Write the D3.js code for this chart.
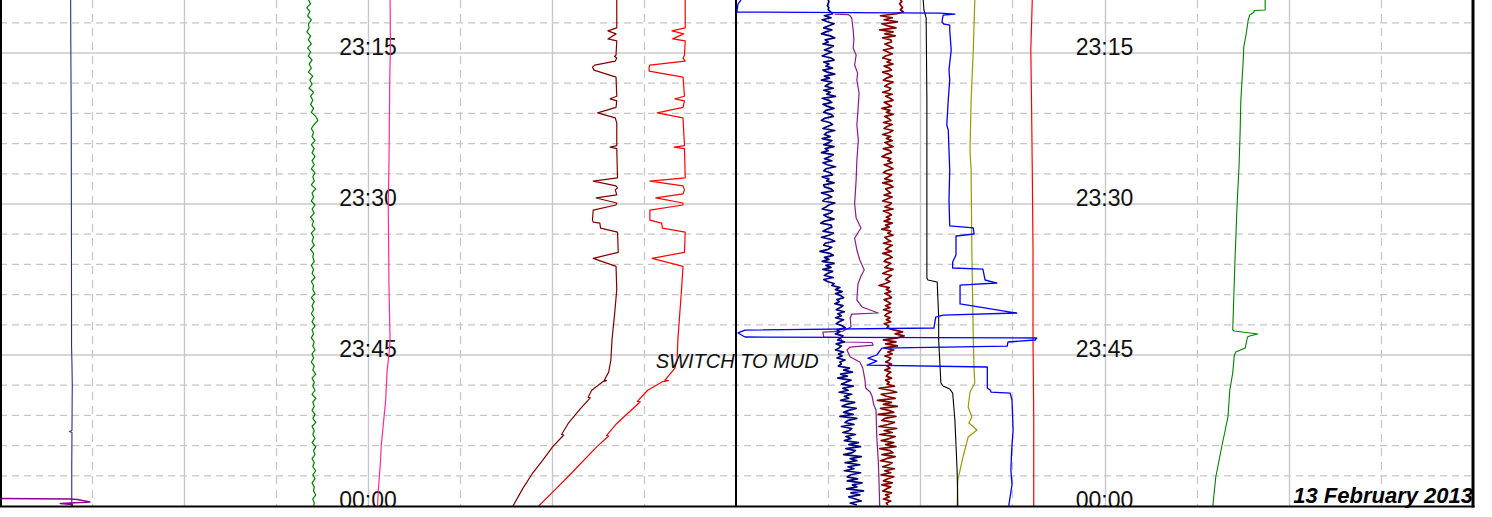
<!DOCTYPE html>
<html><head><meta charset="utf-8">
<script src="https://cdn.jsdelivr.net/npm/d3@7"></script>
<style>html,body{margin:0;padding:0;background:#fff;} svg{display:block;}</style>
</head><body>
<svg id="c" width="1492" height="517"></svg>
<script>
// ---------- DATA (time = minutes after 23:00, value = % of track width) ----------
const timeLabels = ["23:15", "23:30", "23:45", "00:00"];
const timeTicks = [15, 30, 45, 60];
const timeDomain = [9.735, 60];
const minorStep = 3;
const annotationText = "SWITCH TO MUD";
const annotationAt = [46.3, 89.1];
const dateText = "13 February 2013";

// Track A (left)
const blueA = [[9.7,9.6],[14,9.62],[18,9.65],[22,9.68],[30,9.7],[40,9.72],[44,9.72],[46,9.78],[48,9.82],[50,9.8],[52.5,9.78],[52.6,9.45],[52.7,9.78],[56,9.75],[60,9.75]];
const purpleA = [[59.25,0],[59.3,9.5],[59.35,10.5],[59.6,12.2],[59.75,8.2],[59.85,9.8],[60,9.8]];
const pinkA = [[9.7,53.0],[14,53.05],[18,52.95],[22,52.9],[26,52.85],[30,52.75],[34,52.8],[38,52.85],[42,52.95],[43.5,53.0],[45,52.85],[46.5,52.6],[48,52.5],[49.5,52.4],[51,52.2],[52.5,52.0],[54,51.8],[55.5,51.7],[57,51.55],[58.5,51.4],[60,51.3]];
const greenAStart = 9.7, greenAStep = 0.4;
const greenAVals = [41.9,42.2,41.7,42.1,41.8,42.3,41.9,42.0,41.7,42.2,41.9,42.3,41.8,
42.2,41.9,42.4,42.0,42.3,41.9,42.5,42.1,42.4,42.0,42.6,42.2,42.5,
42.2,42.6,42.3,42.9,43.2,42.7,42.3,42.6,42.4,42.8,42.3,42.7,42.4,
42.8,42.4,42.7,42.3,42.8,42.5,42.7,42.3,42.9,42.4,42.6,42.3,42.8,
42.4,42.7,42.2,42.6,42.4,42.8,42.3,42.6,42.4,42.7,42.2,42.6,42.5,
42.7,42.3,42.6,42.4,42.8,42.3,42.6,42.5,42.8,42.3,42.7,42.4,42.6,
42.3,42.7,42.4,42.8,42.4,42.6,42.3,42.7,42.5,42.8,42.4,42.6,42.3,
42.7,42.5,42.9,42.4,42.7,42.5,42.8,42.4,42.9,42.5,42.7,42.4,42.8,
42.5,42.9,42.4,42.7,42.5,42.8,42.4,42.9,42.6,42.8,42.4,42.7,42.5,
42.9,42.5,42.8,42.4,42.7,42.6,42.9,42.5,42.7,42.6];
const maroonA = [[9.7,83.8],[12.5,83.8],[12.8,82.6],[13.1,83.7],[13.6,82.6],[13.8,83.8],[15.2,83.7],[15.35,83.5],[15.5,83.8],[15.8,83.6],[16.2,80.8],[16.4,80.5],[16.7,80.7],[17.4,83.7],[19.3,83.8],[19.55,82.9],[19.75,83.8],[20.4,83.7],[20.95,81.2],[21.45,83.6],[22,83.8],[24.2,83.8],[24.35,82.9],[24.5,83.8],[27.4,83.9],[27.72,80.6],[28.2,83.7],[28.4,83.9],[28.6,83.6],[29.1,83.8],[29.4,81.0],[29.9,83.8],[30.1,83.7],[30.6,80.6],[31.6,80.5],[31.8,80.6],[31.9,81.5],[32.4,81.6],[32.8,83.9],[34.8,84.0],[35.4,80.6],[36.2,83.7],[38.5,83.8],[41,83.5],[43.5,83.15],[45.5,83.0],[46.7,82.7],[47.5,82.1],[47.55,82.4],[47.65,81.9],[48.5,80.4],[49.2,79.9],[49.25,80.2],[50.3,78.9],[51.8,77.2],[52.9,76.3],[52.95,76.6],[54.1,75.1],[55.4,73.8],[56.7,72.4],[58.3,71.0],[60,69.7]];
const redA = [[9.7,93.1],[12.5,93.1],[12.8,91.3],[13.1,92.9],[13.6,91.4],[13.8,93.1],[15.2,93.0],[15.5,92.8],[15.8,93.1],[16.2,88.3],[16.4,88.2],[16.8,88.2],[17.4,92.8],[19.3,93.0],[19.55,91.7],[19.75,93.0],[20.4,92.8],[20.95,89.3],[21.45,92.8],[24.2,93.0],[24.35,91.6],[24.5,93.0],[27.4,93.1],[27.72,88.3],[28.2,92.8],[28.6,93.0],[29.0,92.8],[29.4,89.1],[29.9,92.8],[30.1,92.8],[30.6,88.3],[31.6,88.3],[31.9,89.9],[32.4,90.0],[32.8,93.1],[34.8,93.0],[35.4,88.6],[36.2,92.8],[38.5,92.6],[43.5,92.1],[45.5,92.0],[46.3,91.7],[47.5,90.35],[47.55,90.8],[47.65,90.0],[48.5,88.0],[49.6,86.6],[49.65,87.0],[51.8,83.8],[53.0,82.4],[53.05,82.7],[54.1,81.1],[56.7,77.7],[58.4,75.4],[60,73.2]];

// Track B (right)
const navyStart = 9.7, navyStep = 0.2;
const navyVals = [12.5,12.6,12.5,12.4,12.6,12.5,12.8,
13.1,12.0,12.9,11.7,12.4,13.3,12.6,11.9,13.0,12.2,
11.6,12.8,13.4,12.1,12.5,11.8,13.2,12.7,12.0,13.0,
12.3,11.7,12.9,13.3,11.9,12.6,12.2,13.1,11.8,12.4,
13.4,12.0,12.7,11.6,13.0,12.5,12.1,13.2,11.9,12.8,
12.3,13.5,11.7,12.6,13.0,11.8,12.4,13.3,12.2,11.9,
12.9,13.2,12.0,11.6,12.7,13.1,12.4,11.8,13.4,12.3,
12.0,12.8,11.7,13.0,12.6,11.9,13.3,12.1,12.5,11.6,
13.2,12.7,12.0,13.0,11.8,12.4,13.5,12.2,11.9,12.8,
13.1,11.7,12.6,12.3,13.3,11.9,12.0,12.9,13.2,11.6,
12.5,13.0,12.1,11.8,13.4,12.6,12.2,11.7,13.1,12.8,
11.9,12.4,13.3,12.0,11.5,12.9,13.0,12.3,11.8,13.2,
12.6,11.6,12.8,13.4,12.1,11.9,13.0,12.5,11.4,12.7,
13.2,12.0,12.6,11.7,13.3,12.2,12.9,11.8,13.1,12.4,
12.0,13.2,11.9,
12.4,13.3,13.0,14.1,13.5,
14.4,13.5,14.2,14.6,13.7,14.0,13.4,14.5,14.1,13.6,
14.7,13.8,14.3,13.5,14.6,14.0,13.6,14.4,14.8,13.7,
14.1,13.5,14.5,14.2,13.8,14.7,13.6,14.3,14.0,13.5,
14.6,13.9,14.4,13.7,14.8,14.1,14.3,
13.9,15.4,14.6,15.8,14.2,15.1,13.8,15.6,14.9,14.3,15.9,14.5,15.2,14.0,15.7,14.7,15.3,
14.2,16.1,15.0,14.4,16.3,15.3,14.6,15.9,14.1,16.4,15.2,14.8,16.0,14.3,15.7,15.4,14.5,16.2,14.9,15.6,
14.7,16.6,15.3,16.9,14.9,16.2,15.8,14.6,17.0,15.5,16.4,14.8,16.8,15.2,16.0,14.7,16.9,15.6,15.1,16.5,
15.1,17.1,15.8,16.4,15.0,17.3,15.6,16.8,15.3,16.2,17.0,15.5,16.4];
const maroonBStart = 9.7, maroonBStep = 0.2;
const maroonBVals = [22.3,22.5,22.2,22.4,22.6,22.3,
22.7,
21.8,19.6,21.2,20.1,21.9,19.8,20.6,21.7,19.5,21.3,20.2,21.6,19.9,21.0,
21.1,20.2,20.8,21.3,20.0,20.6,21.2,20.3,19.9,21.0,
20.5,21.3,20.1,20.8,21.1,19.9,20.7,21.2,20.4,20.0,
21.3,20.6,20.2,21.0,20.8,19.9,21.2,20.3,20.9,21.3,
20.1,20.6,21.1,19.8,20.9,20.4,21.3,20.2,20.7,21.0,
20.0,21.2,20.5,20.1,21.3,20.8,19.9,21.0,20.4,21.2,
20.2,20.7,21.3,20.0,20.9,21.1,20.3,19.8,21.0,20.6,
21.2,20.1,20.8,21.3,20.4,20.0,21.1,20.7,20.2,21.2,
19.9,20.9,21.3,20.3,20.6,21.0,20.1,21.2,20.5,19.9,
21.1,20.8,20.2,21.3,20.0,20.7,21.1,20.4,20.9,20.1,
21.2,20.3,20.8,19.8,21.0,20.6,21.3,20.2,20.5,21.0,
20.0,21.2,20.7,20.3,21.1,19.9,20.8,21.2,20.4,20.1,
21.0,20.6,20.2,21.3,20.5,19.9,21.1,20.7,20.3,
20.9,20.3,19.4,20.8,20.4,
21.0,20.2,20.8,21.1,20.1,20.6,21.0,20.3,20.9,20.0,21.1,20.5,20.2,20.9,20.4,21.0,20.1,20.7,20.5,
21.4,22.6,21.6,22.8,21.9,
20.0,21.7,20.3,21.9,20.1,21.4,20.6,21.2,20.2,21.0,
20.8,20.3,21.1,20.5,20.9,20.2,21.0,20.6,20.4,21.1,20.3,20.8,20.5,
21.5,19.4,20.9,21.8,19.7,20.4,21.6,19.2,21.1,20.0,
21.9,19.6,20.7,21.4,19.3,21.7,20.2,19.8,21.5,20.6,
19.4,21.8,20.1,21.2,19.5,21.6,20.8,19.7,21.4,20.3,
21.7,19.5,20.9,21.3,19.8,21.6,20.4,19.6,21.2,20.7,
19.9,21.5,20.2,21.0,19.7,21.4,20.6,20.0,21.2,19.8,
21.0,20.4,19.9,21.1,20.3,20.8,20.0,21.0,20.4,20.6];
const purpleB = [[11.13,13.4],[11.18,15.2],[11.33,15.5],[11.52,15.7],[12.72,15.9],[13.71,16.0],[14.5,15.9],[15.2,16.3],[16.19,16.1],[17.0,16.5],[17.68,16.4],[19.0,16.7],[20.66,16.55],[22.15,16.4],[23.64,16.6],[25.63,16.4],[27.62,16.3],[30.0,16.1],[31.39,16.3],[32.38,16.96],[33.38,16.1],[34.57,16.4],[35.56,16.8],[36.56,17.4],[37.15,16.96],[37.95,16.55],[39.54,16.4],[40.23,17.1],[40.83,19.3],[40.93,15.7],[41.33,15.5],[42.22,15.6],[42.62,14.5],[42.72,11.8],[43.21,11.9],[43.26,14.1],[43.71,14.5],[43.76,18.45],[44.01,18.6],[44.21,15.5],[44.5,15.05],[45.2,15.5],[45.7,16.8],[46.29,17.2],[47.48,17.5],[48.28,17.6],[48.68,18.2],[49.07,18.45],[49.97,18.7],[50.47,19.0],[53.15,19.1],[55.43,19.3],[57.42,19.4],[60,19.5]];
const blueB = [[9.74,0.68],[10.13,0.27],[10.83,0.14],[10.93,0.14],[11.03,27.7],[11.13,29.7],[11.23,28.1],[11.92,27.95],[12.12,28.2],[12.22,29.0],[12.72,29.0],[14.7,29.2],[16.69,28.9],[17.68,29.0],[19.67,28.8],[22.15,28.6],[22.65,28.8],[24.64,28.9],[26.62,29.0],[29.6,28.9],[32.18,29.0],[32.38,32.2],[32.98,32.3],[33.18,29.85],[35.07,29.85],[35.76,29.4],[36.36,29.4],[36.46,33.5],[37.55,33.8],[37.85,35.4],[38.05,30.4],[39.93,30.4],[40.83,38.1],[41.03,28.1],[41.23,27.1],[42.32,26.85],[42.52,1.22],[42.81,0.27],[43.21,1.22],[43.31,40.8],[43.51,40.6],[43.71,36.9],[44.11,36.8],[44.31,19.8],[45.0,19.1],[45.3,17.9],[45.6,19.1],[46.0,17.8],[46.19,34.1],[48.28,34.1],[48.48,34.5],[48.68,34.6],[48.78,37.2],[49.47,37.45],[52.45,37.6],[54.5,37.4],[56.42,37.3],[57.9,37.45],[60,37.0]];
const blackB = [[9.74,25.4],[10.73,25.5],[11.52,25.8],[19.67,25.9],[37.35,25.9],[37.55,26.05],[37.75,27.3],[39.54,27.4],[41.23,27.5],[43.51,27.5],[47.78,27.8],[48.08,28.1],[48.38,29.0],[48.78,29.4],[51.46,29.7],[56.42,30.0],[60,30.1]];
const oliveB = [[9.74,32.4],[14.7,32.2],[19.67,31.9],[24.64,31.75],[26.62,31.9],[34.57,32.0],[43.51,32.2],[46.49,32.3],[47.78,32.4],[48.68,31.75],[50.17,31.5],[51.16,32.0],[51.76,31.6],[52.45,32.7],[53.15,31.5],[55.13,30.8],[57.42,30.1],[60,30.0]];
const redB = [[9.74,40.2],[14.7,40.0],[20,40.1],[26.62,40.2],[34.57,40.3],[43.51,40.3],[51.46,40.4],[60,40.4]];
const greenB = [[9.74,71.8],[10.73,71.8],[10.78,70.3],[10.93,70.3],[11.23,69.7],[11.72,69.5],[13.21,69.2],[14.4,68.9],[15.99,68.8],[19.67,68.5],[22.95,68.4],[26.33,68.25],[29.9,68.0],[35.66,67.7],[42.52,67.4],[42.62,67.6],[42.91,70.8],[43.11,69.7],[43.21,69.4],[44.3,69.1],[44.7,67.8],[45.1,67.6],[46.79,67.4],[48.48,67.0],[51.16,66.75],[54.14,65.9],[57.12,65.1],[60,64.7]];

// ---------- CHART ----------
const svg = d3.select("#c");
const plotBottom = 506, plotRight = 1473;
const y = d3.scaleLinear().domain(timeDomain).range([0, plotBottom]);
const xA = d3.scaleLinear().domain([0, 100]).range([0, 736]);
const xB = d3.scaleLinear().domain([0, 100]).range([736, plotRight]);

svg.append("defs").append("clipPath").attr("id","clip")
  .append("rect").attr("x",0).attr("y",0).attr("width",plotRight).attr("height",plotBottom);
const g = svg.append("g").attr("clip-path","url(#clip)");

// grid: horizontal
const minorTicks = d3.range(12, 60, minorStep).filter(t => t % 15 !== 0);
g.selectAll("line.hmin").data(minorTicks).enter().append("line")
  .attr("x1",0).attr("x2",plotRight).attr("y1",d=>y(d)).attr("y2",d=>y(d))
  .attr("stroke","#c6c6c6").attr("stroke-width",1.3).attr("stroke-dasharray","7,5");
g.selectAll("line.hmaj").data(timeTicks.filter(t=>t<60)).enter().append("line")
  .attr("x1",0).attr("x2",plotRight).attr("y1",d=>y(d)).attr("y2",d=>y(d))
  .attr("stroke","#d6d6d6").attr("stroke-width",2);
// grid: vertical
const divs = d3.range(1, 8).map(i => i * 12.5);
[xA, xB].forEach(xs => {
  g.selectAll(null).data(divs).enter().append("line")
    .attr("x1",d=>Math.round(xs(d))+0.5).attr("x2",d=>Math.round(xs(d))+0.5)
    .attr("y1",0).attr("y2",plotBottom)
    .attr("stroke","#c8c8c8")
    .attr("stroke-width", (d,i)=> i%2===1 ? 1.4 : 1.3)
    .attr("stroke-dasharray", (d,i)=> i%2===1 ? null : "8,6");
});

// time labels (under curves)
[xA, xB].forEach(xs => {
  g.selectAll(null).data(timeTicks).enter().append("text")
    .attr("x", xs(50)).attr("y", d => y(d) + 2)
    .attr("text-anchor","middle")
    .attr("font-family","'Liberation Sans', Arial, sans-serif")
    .attr("font-size", 23).attr("fill","#111")
    .text((d,i)=>timeLabels[i]);
});

const line = xs => d3.line().x(d => xs(d[1])).y(d => y(d[0]));
const sampled = (start, step, vals) => vals.map((v,i) => [start + i*step, v]);

const series = [
  {d: sampled(greenAStart, greenAStep, greenAVals), xs: xA, c: "#008000", w: 1.2},
  {d: pinkA, xs: xA, c: "#ff2a95", w: 1.2},
  {d: blueA, xs: xA, c: "#2b2b9c", w: 1.1},
  {d: purpleA, xs: xA, c: "#8b008b", w: 1.6},
  {d: maroonA, xs: xA, c: "#800000", w: 1.2},
  {d: redA, xs: xA, c: "#ff0000", w: 1.2},
  {d: redB, xs: xB, c: "#ff0000", w: 1.2},
  {d: oliveB, xs: xB, c: "#999900", w: 1.2},
  {d: blackB, xs: xB, c: "#000000", w: 1.1},
  {d: greenB, xs: xB, c: "#008000", w: 1.1},
  {d: purpleB, xs: xB, c: "#8b1a8b", w: 1.2},
  {d: sampled(maroonBStart, maroonBStep, maroonBVals), xs: xB, c: "#800000", w: 1.7},
  {d: sampled(navyStart, navyStep, navyVals), xs: xB, c: "#000080", w: 1.7},
  {d: blueB, xs: xB, c: "#0000ff", w: 1.3}
];
series.forEach(s => {
  g.append("path").datum(s.d).attr("d", line(s.xs)(s.d))
    .attr("fill","none").attr("stroke", s.c).attr("stroke-width", s.w)
    .attr("stroke-linejoin","round");
});

// annotation
g.append("text").attr("x", xA(annotationAt[1])).attr("y", y(annotationAt[0]))
  .attr("font-family","'Liberation Sans', Arial, sans-serif").attr("font-style","italic")
  .attr("font-size",20).attr("fill","#111").text(annotationText);

// borders
const bg = svg.append("g").attr("stroke","#000");
bg.append("line").attr("x1",1).attr("x2",1).attr("y1",0).attr("y2",plotBottom).attr("stroke-width",2);
bg.append("line").attr("x1",736).attr("x2",736).attr("y1",0).attr("y2",plotBottom).attr("stroke-width",2);
bg.append("line").attr("x1",plotRight).attr("x2",plotRight).attr("y1",0).attr("y2",plotBottom+1.5).attr("stroke-width",3);
bg.append("line").attr("x1",0).attr("x2",plotRight+1.5).attr("y1",plotBottom+0.5).attr("y2",plotBottom+0.5).attr("stroke-width",2);

// date
svg.append("text").attr("x", plotRight).attr("y", 503).attr("text-anchor","end")
  .attr("font-family","'Liberation Sans', Arial, sans-serif").attr("font-style","italic").attr("font-weight","bold")
  .attr("font-size",22).attr("fill","#000").text(dateText);
</script>
</body></html>
